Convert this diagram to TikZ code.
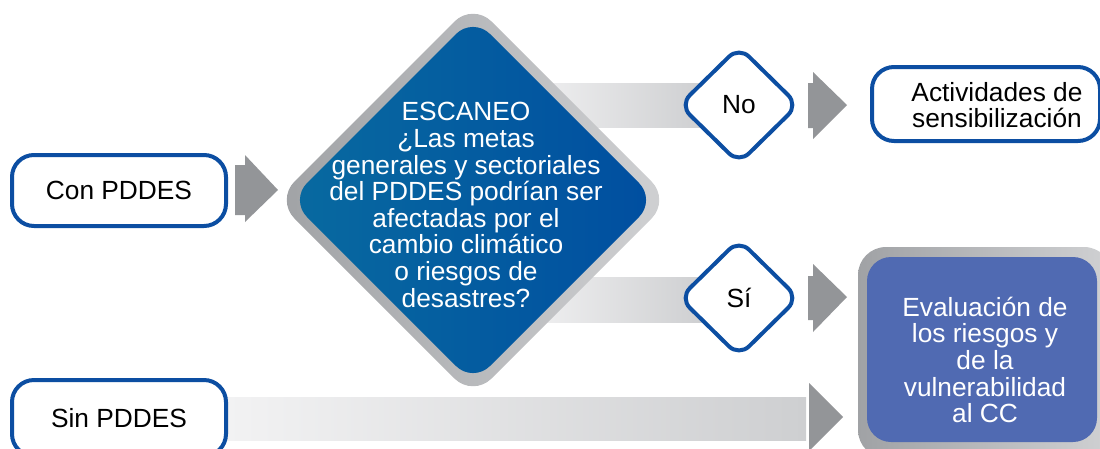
\documentclass[tikz,border=0pt]{standalone}
\usepackage{fontspec}
\setmainfont{Liberation Sans}
\usetikzlibrary{shapes.geometric}
\definecolor{bblue}{RGB}{12,78,162}
\definecolor{agray}{RGB}{147,149,152}
\definecolor{bandL}{RGB}{242,242,243}
\definecolor{bandR}{RGB}{206,207,209}
\definecolor{dgrayL}{RGB}{160,162,165}
\definecolor{dgrayR}{RGB}{208,209,211}
\definecolor{dblueL}{RGB}{8,106,160}
\definecolor{dblueR}{RGB}{0,78,160}
\definecolor{evalblue}{RGB}{80,106,178}
\tikzset{
  txt/.style={font=\fontsize{26.3}{26.6}\selectfont, align=center, inner sep=0pt},
  bluebox/.style={draw=bblue, line width=4pt, fill=white, rounded corners=22pt, inner sep=0pt, rectangle},
  smalldia/.style={diamond, draw=bblue, line width=4pt, fill=white, rounded corners=14pt,
     inner sep=0pt, minimum width=120pt, minimum height=118pt, txt},
  band/.style={left color=bandL, right color=bandR},
  blockarrow/.style={fill=agray},
}
\begin{document}
\begin{tikzpicture}[x=1pt,y=-1pt]
\useasboundingbox (0,0) rectangle (1100,448);
\clip (0,0) rectangle (1100,448);

% bands (drawn behind)
\shade[band] (520,83) rectangle (705,127);
\shade[band] (520,277) rectangle (705,322);
\shade[band] (226,397) rectangle (806,440);

% big decision diamond
\shade[left color=dgrayL, right color=dgrayR, rounded corners=26pt]
  (473,3) -- (670,200) -- (473,397) -- (276,200) -- cycle;
\shade[left color=dblueL, right color=dblueR, rounded corners=24pt]
  (473,17) -- (656,200) -- (473,383) -- (290,200) -- cycle;
\node[txt, text=white] (scan) at (466,205)
  {ESCANEO\\¿Las metas\\generales y sectoriales\\del PDDES podrían ser\\afectadas por el\\cambio climático\\o riesgos de\\desastres?};

% left boxes
\node[bluebox, minimum width=214pt, minimum height=71pt, txt] (con) at (119,190.5) {Con PDDES};
\node[bluebox, minimum width=214pt, minimum height=76pt, txt] (sin) at (119,418) {Sin PDDES};

% small diamonds
\node[smalldia] (no) at (739,105) {No};
\node[smalldia] (si) at (739,298) {Sí};

% block arrows
\fill[blockarrow] (235,165) -- (245,165) -- (245,155) -- (278,190) -- (245,222) -- (245,215) -- (235,215) -- cycle;
\fill[blockarrow] (808,83) -- (813,83) -- (813,72) -- (847,105) -- (813,139) -- (813,128) -- (808,128) -- cycle;
\fill[blockarrow] (808,276) -- (813,276) -- (813,264) -- (847,297) -- (813,332) -- (813,320) -- (808,320) -- cycle;
\fill[blockarrow] (809,383) -- (843,417) -- (809,451) -- cycle;

% Actividades box
\node[bluebox, minimum width=228pt, minimum height=74pt] (act) at (986,104) {};
\node[txt] (actt) at (997,105) {Actividades de\\sensibilización};

% Evaluación box
\shade[left color=dgrayL, right color=dgrayR, rounded corners=28pt] (858,247) rectangle (1112,458);
\node[fill=evalblue, rounded corners=24pt, minimum width=230pt, minimum height=185pt, inner sep=0pt] (eval) at (982,349.5) {};
\node[txt, text=white] (evalt) at (985,360) {Evaluación de\\los riesgos y\\de la\\vulnerabilidad\\al CC};
\end{tikzpicture}
\end{document}
